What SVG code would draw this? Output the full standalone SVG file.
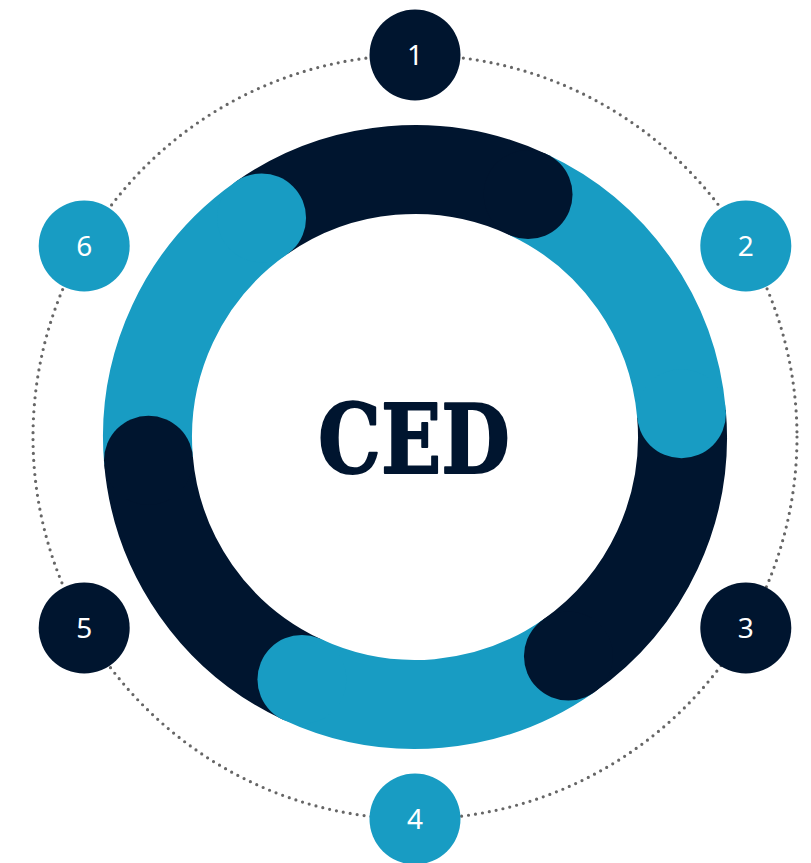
<svg xmlns="http://www.w3.org/2000/svg" width="811" height="863" viewBox="0 0 811 863">
<style>
.dark{fill:#00152F}
.light{fill:#189CC3}
.segd{fill:none;stroke:#00152F;stroke-width:89}
.segl{fill:none;stroke:#189CC3;stroke-width:89}
.num{font-family:"Noto Sans","Open Sans",sans-serif;font-size:28px;fill:#ffffff;text-anchor:middle}
.orbit{fill:none;stroke:#666666;stroke-width:3.2;stroke-linecap:round;stroke-dasharray:0 7}
</style>
<rect width="811" height="863" fill="#ffffff"/>
<g id="connectors">
<circle class="orbit" cx="415" cy="437" r="382"/>
</g>
<g id="ring">
<path class="segd" d="M261.57,217.88 A267.5,267.5 0 0 1 528.05,194.56"/>
<path class="segl" d="M528.05,194.56 A267.5,267.5 0 0 1 681.48,413.68"/>
<path class="segd" d="M681.48,413.68 A267.5,267.5 0 0 1 568.43,656.12"/>
<path class="segl" d="M568.43,656.12 A267.5,267.5 0 0 1 301.95,679.44"/>
<path class="segd" d="M301.95,679.44 A267.5,267.5 0 0 1 148.52,460.32"/>
<path class="segl" d="M148.52,460.32 A267.5,267.5 0 0 1 261.57,217.88"/>
<circle class="dark" cx="528.05" cy="194.56" r="44.5"/>
<circle class="light" cx="681.48" cy="413.68" r="44.5"/>
<circle class="dark" cx="568.43" cy="656.12" r="44.5"/>
<circle class="light" cx="301.95" cy="679.44" r="44.5"/>
<circle class="dark" cx="148.52" cy="460.32" r="44.5"/>
<circle class="light" cx="261.57" cy="217.88" r="44.5"/>
</g>
<g id="center">
<text x="414" y="473" font-family="'DejaVu Serif',serif" font-weight="bold" font-size="96" fill="#00152F" stroke="#00152F" stroke-width="2" stroke-linejoin="round" text-anchor="middle" textLength="192" lengthAdjust="spacingAndGlyphs">CED</text>
</g>
<g id="node1"><circle class="dark" cx="415" cy="55" r="45.5"/><text class="num" x="415" y="65">1</text></g>
<g id="node2"><circle class="light" cx="745.8" cy="246" r="45.5"/><text class="num" x="745.8" y="256">2</text></g>
<g id="node3"><circle class="dark" cx="745.8" cy="628" r="45.5"/><text class="num" x="745.8" y="638">3</text></g>
<g id="node4"><circle class="light" cx="415" cy="819" r="45.5"/><text class="num" x="415" y="829">4</text></g>
<g id="node5"><circle class="dark" cx="84.2" cy="628" r="45.5"/><text class="num" x="84.2" y="638">5</text></g>
<g id="node6"><circle class="light" cx="84.2" cy="246" r="45.5"/><text class="num" x="84.2" y="256">6</text></g>
</svg>
